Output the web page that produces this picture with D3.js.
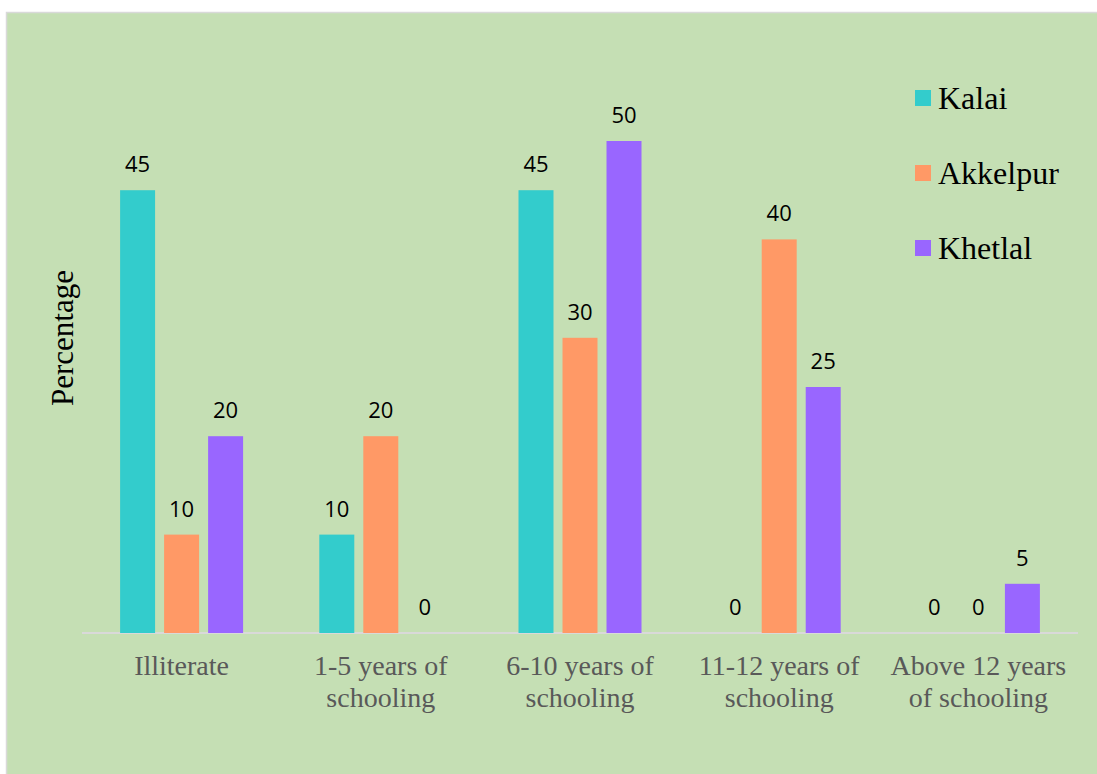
<!DOCTYPE html>
<html lang="en">
<head>
<meta charset="utf-8">
<title>Education level by upazila</title>
<script src="https://d3js.org/d3.v7.min.js"></script>
<style>
  body { margin: 0; background: #fff; }
  svg { display: block; }
  .bar-label { font-family: "Open Sans", "Noto Sans", sans-serif; font-size: 22px; fill: #000; }
  .cat-label { font-family: "Liberation Serif", "Times New Roman", serif; font-size: 28px; fill: #595959; }
  .legend text { font-family: "Liberation Serif", "Times New Roman", serif; font-size: 32px; fill: #000; }
</style>
</head>
<body>
<svg id="chart" width="1097" height="774"></svg>
<script>

// data
var categories = [
  ["Illiterate"],
  ["1-5 years of", "schooling"],
  ["6-10 years of", "schooling"],
  ["11-12 years of", "schooling"],
  ["Above 12 years", "of schooling"]
];
var seriesNames = ["Kalai", "Akkelpur", "Khetlal"];
var kalai    = [45, 10, 45, 0, 0];
var akkelpur = [10, 20, 30, 40, 0];
var khetlal  = [20, 0, 50, 25, 5];
var colors   = ["#33CCCC", "#FF9966", "#9966FF"];

var values = [kalai, akkelpur, khetlal];
var catKeys = categories.map(function(c) { return c.join(" "); });

var svg = d3.select("#chart");

// panel background
svg.append("rect")
    .attr("x", 6.5).attr("y", 12.5)
    .attr("width", 1097).attr("height", 774)
    .attr("fill", "#C5DFB4")
    .attr("stroke", "#D9D9D9")
    .attr("stroke-width", 1.5);

var x0 = d3.scaleBand().domain(catKeys).range([82, 1078]).padding(0);
var groupW = 123;
var x1 = d3.scaleBand().domain(seriesNames)
    .range([(x0.bandwidth() - groupW) / 2, (x0.bandwidth() + groupW) / 2])
    .paddingInner(0.205).paddingOuter(0);
var y = d3.scaleLinear().domain([0, 50]).range([633, 141]);

// baseline
svg.append("line")
    .attr("x1", 82).attr("x2", 1078)
    .attr("y1", y(0)).attr("y2", y(0))
    .attr("stroke", "#D9D9D9")
    .attr("stroke-width", 2);

var cells = [];
seriesNames.forEach(function(s, si) {
  catKeys.forEach(function(c, ci) {
    cells.push({ series: s, si: si, cat: c, value: values[si][ci] });
  });
});

var g = svg.append("g");

g.selectAll(".bar")
  .data(cells)
  .enter().append("rect")
    .attr("class", "bar")
    .attr("x", function(d) { return x0(d.cat) + x1(d.series); })
    .attr("y", function(d) { return y(d.value); })
    .attr("width", x1.bandwidth())
    .attr("height", function(d) { return y(0) - y(d.value); })
    .attr("fill", function(d) { return colors[d.si]; });

g.selectAll(".bar-label")
  .data(cells)
  .enter().append("text")
    .attr("class", "bar-label")
    .attr("x", function(d) { return x0(d.cat) + x1(d.series) + x1.bandwidth() / 2; })
    .attr("y", function(d) { return y(d.value) - 18; })
    .attr("text-anchor", "middle")
    .text(function(d) { return d.value; });

// category labels
var cl = svg.selectAll(".cat-label")
  .data(categories)
  .enter().append("text")
    .attr("class", "cat-label")
    .attr("text-anchor", "middle")
    .attr("x", function(d, i) { return x0(catKeys[i]) + x0.bandwidth() / 2; })
    .attr("y", 675);
cl.selectAll("tspan")
  .data(function(d) { return d; })
  .enter().append("tspan")
    .attr("x", function() { return d3.select(this.parentNode).attr("x"); })
    .attr("dy", function(d, i) { return i === 0 ? 0 : 32; })
    .text(function(d) { return d; });

// y axis title
svg.append("text")
    .attr("transform", "translate(73,338) rotate(-90)")
    .attr("text-anchor", "middle")
    .style("font-family", "'Liberation Serif', 'Times New Roman', serif")
    .style("font-size", "31px")
    .text("Percentage");

// legend
var legend = svg.append("g").attr("class", "legend")
  .selectAll("g")
  .data(seriesNames)
  .enter().append("g")
    .attr("transform", function(d, i) { return "translate(915," + (90 + i * 75) + ")"; });
legend.append("rect")
    .attr("width", 16).attr("height", 16)
    .attr("fill", function(d, i) { return colors[i]; });
legend.append("text")
    .attr("x", 23).attr("y", 19)
    .text(function(d) { return d; });

</script>
</body>
</html>
